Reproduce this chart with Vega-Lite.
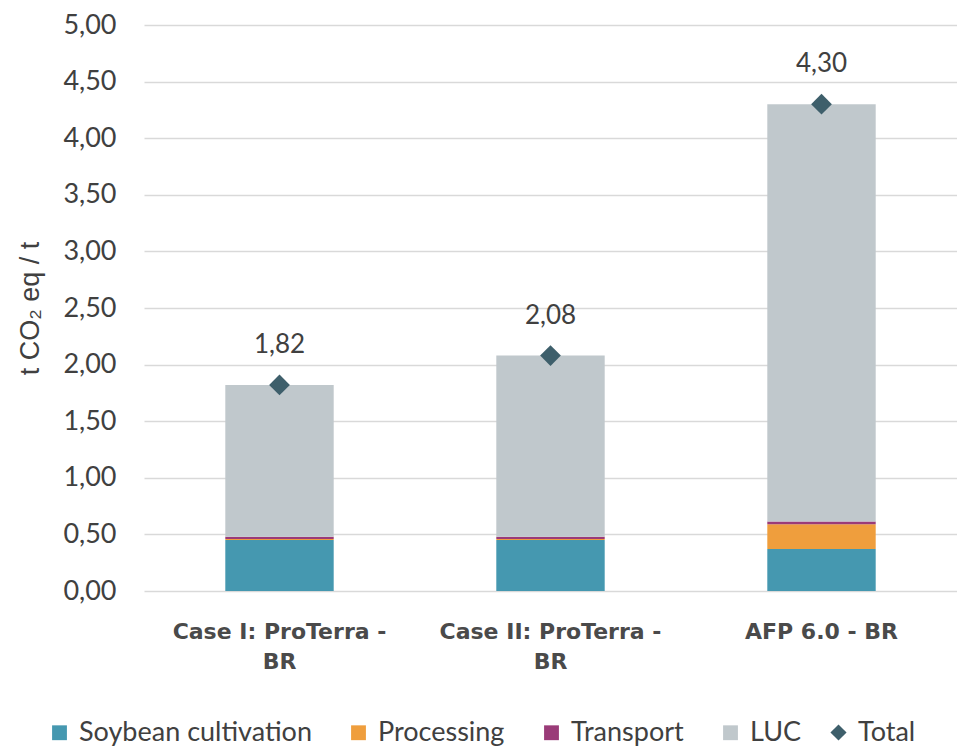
{
  "$schema": "https://vega.github.io/schema/vega-lite/v6.json",
  "autosize": "none",
  "width": 813,
  "height": 566,
  "padding": {"left": 144, "top": 25, "right": 0, "bottom": 157},
  "background": "white",
  "config": {
    "view": {"stroke": null},
    "font": "Lato",
    "axis": {"labelColor": "#404040", "titleColor": "#404040"}
  },
  "datasets": {
    "parts": [
      {"case": "Case I: ProTerra -|BR", "component": "Soybean cultivation", "ord": 1, "value": 0.45},
      {"case": "Case I: ProTerra -|BR", "component": "Processing", "ord": 2, "value": 0.01},
      {"case": "Case I: ProTerra -|BR", "component": "Transport", "ord": 3, "value": 0.02},
      {"case": "Case I: ProTerra -|BR", "component": "LUC", "ord": 4, "value": 1.34},
      {"case": "Case II: ProTerra -|BR", "component": "Soybean cultivation", "ord": 1, "value": 0.45},
      {"case": "Case II: ProTerra -|BR", "component": "Processing", "ord": 2, "value": 0.01},
      {"case": "Case II: ProTerra -|BR", "component": "Transport", "ord": 3, "value": 0.02},
      {"case": "Case II: ProTerra -|BR", "component": "LUC", "ord": 4, "value": 1.60},
      {"case": "AFP 6.0 - BR", "component": "Soybean cultivation", "ord": 1, "value": 0.37},
      {"case": "AFP 6.0 - BR", "component": "Processing", "ord": 2, "value": 0.22},
      {"case": "AFP 6.0 - BR", "component": "Transport", "ord": 3, "value": 0.025},
      {"case": "AFP 6.0 - BR", "component": "LUC", "ord": 4, "value": 3.685}
    ],
    "totals": [
      {"case": "Case I: ProTerra -|BR", "series": "Total", "total": 1.82, "label": "1,82"},
      {"case": "Case II: ProTerra -|BR", "series": "Total", "total": 2.08, "label": "2,08"},
      {"case": "AFP 6.0 - BR", "series": "Total", "total": 4.30, "label": "4,30"}
    ]
  },
  "encoding": {
    "x": {
      "field": "case",
      "type": "nominal",
      "sort": ["Case I: ProTerra -|BR", "Case II: ProTerra -|BR", "AFP 6.0 - BR"],
      "scale": {"paddingInner": 0.6, "paddingOuter": 0.3},
      "axis": {
        "title": null,
        "labelAngle": 0,
        "labelExpr": "split(datum.value, '|')",
        "labelFont": "DejaVu Sans",
        "labelFontWeight": "bold",
        "labelFontSize": 22,
        "labelLineHeight": 30,
        "labelPadding": 30,
        "labelLimit": 400,
        "labelColor": "#4a4a4a",
        "ticks": false,
        "domain": false,
        "grid": false
      }
    }
  },
  "layer": [
    {
      "data": {"name": "parts"},
      "mark": {"type": "bar"},
      "encoding": {
        "y": {
          "field": "value",
          "type": "quantitative",
          "stack": "zero",
          "scale": {"domain": [0, 5], "nice": false},
          "axis": {
            "title": "t CO₂ eq / t",
            "titleFont": "Liberation Sans",
            "titleFontWeight": "normal",
            "titleFontSize": 27,
            "titlePadding": 18,
            "values": [0, 0.5, 1, 1.5, 2, 2.5, 3, 3.5, 4, 4.5, 5],
            "labelExpr": "replace(format(datum.value, '.2f'), '.', ',')",
            "labelFont": "Lato",
            "labelFontSize": 27,
            "labelPadding": 28,
            "ticks": false,
            "domain": false,
            "gridColor": "#d9d9d9",
            "gridWidth": 1.5
          }
        },
        "color": {
          "field": "component",
          "type": "nominal",
          "scale": {
            "domain": ["Soybean cultivation", "Processing", "Transport", "LUC"],
            "range": ["#4598B0", "#EF9E3D", "#9A3B78", "#C0C8CC"]
          },
          "legend": {
            "title": null,
            "orient": "none",
            "direction": "horizontal",
            "legendX": -98,
            "legendY": 694,
            "symbolType": "square",
            "symbolSize": 220,
            "symbolStrokeWidth": 0,
            "labelFont": "Lato",
            "labelFontSize": 27,
            "labelColor": "#404040",
            "labelOffset": 6,
            "columnPadding": 33,
            "labelLimit": 400
          }
        },
        "order": {"field": "ord", "type": "quantitative"}
      }
    },
    {
      "data": {"name": "totals"},
      "mark": {"type": "point", "shape": "diamond", "filled": true, "size": 430, "color": "#3E5F6B", "opacity": 1},
      "encoding": {
        "y": {"field": "total", "type": "quantitative"},
        "shape": {
          "field": "series",
          "type": "nominal",
          "scale": {"domain": ["Total"], "range": ["diamond"]},
          "legend": {
            "title": null,
            "orient": "none",
            "legendX": 681,
            "legendY": 694,
            "symbolSize": 260,
            "symbolFillColor": "#3E5F6B",
            "symbolStrokeWidth": 0,
            "labelFont": "Lato",
            "labelFontSize": 27,
            "labelColor": "#404040",
            "labelOffset": 6
          }
        }
      }
    },
    {
      "data": {"name": "totals"},
      "mark": {"type": "text", "dy": -40, "fontSize": 26, "font": "Lato", "color": "#404040"},
      "encoding": {
        "y": {"field": "total", "type": "quantitative"},
        "text": {"field": "label"}
      }
    }
  ]
}
